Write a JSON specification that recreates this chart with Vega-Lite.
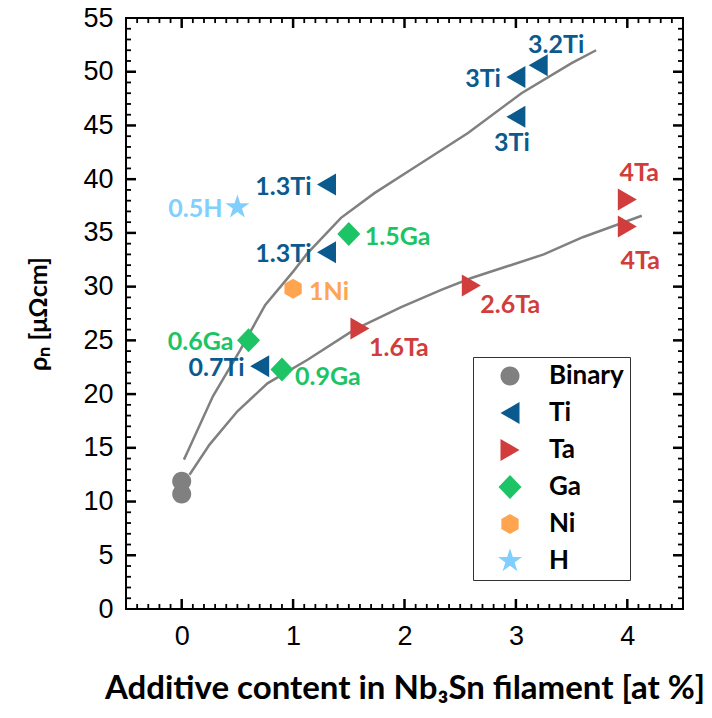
{
  "$schema": "https://vega.github.io/schema/vega-lite/v6.json",
  "width": 557,
  "height": 591,
  "autosize": {"type": "none"},
  "padding": {"left": 126, "top": 18, "right": 29, "bottom": 109},
  "background": "white",
  "config": {
    "view": {"stroke": "black", "strokeWidth": 2},
    "axis": {"domain": false, "ticks": false, "grid": false, "labelColor": "black", "titleColor": "black"}
  },
  "datasets": {
    "points": [
      {"x": 0, "rho": 11.9, "type": "Binary", "label": ""},
      {"x": 0, "rho": 10.7, "type": "Binary", "label": ""},
      {"x": 0.7, "rho": 22.6, "type": "Ti", "label": "0.7Ti"},
      {"x": 1.3, "rho": 33.2, "type": "Ti", "label": "1.3Ti"},
      {"x": 1.3, "rho": 39.5, "type": "Ti", "label": "1.3Ti"},
      {"x": 3, "rho": 45.8, "type": "Ti", "label": "3Ti"},
      {"x": 3, "rho": 49.5, "type": "Ti", "label": "3Ti"},
      {"x": 3.2, "rho": 50.6, "type": "Ti", "label": "3.2Ti"},
      {"x": 1.6, "rho": 26.1, "type": "Ta", "label": "1.6Ta"},
      {"x": 2.6, "rho": 30.1, "type": "Ta", "label": "2.6Ta"},
      {"x": 4, "rho": 38.1, "type": "Ta", "label": "4Ta"},
      {"x": 4, "rho": 35.6, "type": "Ta", "label": "4Ta"},
      {"x": 0.6, "rho": 25.0, "type": "Ga", "label": "0.6Ga"},
      {"x": 0.9, "rho": 22.3, "type": "Ga", "label": "0.9Ga"},
      {"x": 1.5, "rho": 34.9, "type": "Ga", "label": "1.5Ga"},
      {"x": 1, "rho": 29.8, "type": "Ni", "label": "1Ni"},
      {"x": 0.5, "rho": 37.4, "type": "H", "label": "0.5H"}
    ],
    "curves": [
      {"curve": "upper", "x": 0.02, "rho": 13.9},
      {"curve": "upper", "x": 0.06, "rho": 14.8},
      {"curve": "upper", "x": 0.28, "rho": 19.8},
      {"curve": "upper", "x": 0.525, "rho": 24.1},
      {"curve": "upper", "x": 0.75, "rho": 28.3},
      {"curve": "upper", "x": 1.0, "rho": 31.4},
      {"curve": "upper", "x": 1.12, "rho": 33.0},
      {"curve": "upper", "x": 1.43, "rho": 36.4},
      {"curve": "upper", "x": 1.73, "rho": 38.7},
      {"curve": "upper", "x": 2.06, "rho": 40.9},
      {"curve": "upper", "x": 2.57, "rho": 44.3},
      {"curve": "upper", "x": 3.05, "rho": 48.0},
      {"curve": "upper", "x": 3.5, "rho": 50.8},
      {"curve": "upper", "x": 3.72, "rho": 52.0},
      {"curve": "lower", "x": 0.07, "rho": 12.5},
      {"curve": "lower", "x": 0.25, "rho": 15.3},
      {"curve": "lower", "x": 0.5, "rho": 18.4},
      {"curve": "lower", "x": 0.77, "rho": 21.0},
      {"curve": "lower", "x": 1.13, "rho": 23.2},
      {"curve": "lower", "x": 1.55, "rho": 26.0},
      {"curve": "lower", "x": 1.97, "rho": 28.1},
      {"curve": "lower", "x": 2.33, "rho": 29.7},
      {"curve": "lower", "x": 2.6, "rho": 30.8},
      {"curve": "lower", "x": 3.25, "rho": 33.0},
      {"curve": "lower", "x": 3.6, "rho": 34.6},
      {"curve": "lower", "x": 4.13, "rho": 36.6}
    ],
    "xticks": [
      {"value": -0.4, "kind": "minor"}, {"value": -0.3, "kind": "minor"}, {"value": -0.2, "kind": "minor"}, {"value": -0.1, "kind": "minor"},
      {"value": 0, "kind": "major"},
      {"value": 0.1, "kind": "minor"}, {"value": 0.2, "kind": "minor"}, {"value": 0.3, "kind": "minor"}, {"value": 0.4, "kind": "minor"}, {"value": 0.5, "kind": "minor"},
      {"value": 0.6, "kind": "minor"}, {"value": 0.7, "kind": "minor"}, {"value": 0.8, "kind": "minor"}, {"value": 0.9, "kind": "minor"},
      {"value": 1, "kind": "major"},
      {"value": 1.1, "kind": "minor"}, {"value": 1.2, "kind": "minor"}, {"value": 1.3, "kind": "minor"}, {"value": 1.4, "kind": "minor"}, {"value": 1.5, "kind": "minor"},
      {"value": 1.6, "kind": "minor"}, {"value": 1.7, "kind": "minor"}, {"value": 1.8, "kind": "minor"}, {"value": 1.9, "kind": "minor"},
      {"value": 2, "kind": "major"},
      {"value": 2.1, "kind": "minor"}, {"value": 2.2, "kind": "minor"}, {"value": 2.3, "kind": "minor"}, {"value": 2.4, "kind": "minor"}, {"value": 2.5, "kind": "minor"},
      {"value": 2.6, "kind": "minor"}, {"value": 2.7, "kind": "minor"}, {"value": 2.8, "kind": "minor"}, {"value": 2.9, "kind": "minor"},
      {"value": 3, "kind": "major"},
      {"value": 3.1, "kind": "minor"}, {"value": 3.2, "kind": "minor"}, {"value": 3.3, "kind": "minor"}, {"value": 3.4, "kind": "minor"}, {"value": 3.5, "kind": "minor"},
      {"value": 3.6, "kind": "minor"}, {"value": 3.7, "kind": "minor"}, {"value": 3.8, "kind": "minor"}, {"value": 3.9, "kind": "minor"},
      {"value": 4, "kind": "major"},
      {"value": 4.1, "kind": "minor"}, {"value": 4.2, "kind": "minor"}, {"value": 4.3, "kind": "minor"}, {"value": 4.4, "kind": "minor"}
    ],
    "yticks": [
      {"value": 1, "kind": "minor"}, {"value": 2, "kind": "minor"}, {"value": 3, "kind": "minor"}, {"value": 4, "kind": "minor"}, {"value": 5, "kind": "major"},
      {"value": 6, "kind": "minor"}, {"value": 7, "kind": "minor"}, {"value": 8, "kind": "minor"}, {"value": 9, "kind": "minor"}, {"value": 10, "kind": "major"},
      {"value": 11, "kind": "minor"}, {"value": 12, "kind": "minor"}, {"value": 13, "kind": "minor"}, {"value": 14, "kind": "minor"}, {"value": 15, "kind": "major"},
      {"value": 16, "kind": "minor"}, {"value": 17, "kind": "minor"}, {"value": 18, "kind": "minor"}, {"value": 19, "kind": "minor"}, {"value": 20, "kind": "major"},
      {"value": 21, "kind": "minor"}, {"value": 22, "kind": "minor"}, {"value": 23, "kind": "minor"}, {"value": 24, "kind": "minor"}, {"value": 25, "kind": "major"},
      {"value": 26, "kind": "minor"}, {"value": 27, "kind": "minor"}, {"value": 28, "kind": "minor"}, {"value": 29, "kind": "minor"}, {"value": 30, "kind": "major"},
      {"value": 31, "kind": "minor"}, {"value": 32, "kind": "minor"}, {"value": 33, "kind": "minor"}, {"value": 34, "kind": "minor"}, {"value": 35, "kind": "major"},
      {"value": 36, "kind": "minor"}, {"value": 37, "kind": "minor"}, {"value": 38, "kind": "minor"}, {"value": 39, "kind": "minor"}, {"value": 40, "kind": "major"},
      {"value": 41, "kind": "minor"}, {"value": 42, "kind": "minor"}, {"value": 43, "kind": "minor"}, {"value": 44, "kind": "minor"}, {"value": 45, "kind": "major"},
      {"value": 46, "kind": "minor"}, {"value": 47, "kind": "minor"}, {"value": 48, "kind": "minor"}, {"value": 49, "kind": "minor"}, {"value": 50, "kind": "major"},
      {"value": 51, "kind": "minor"}, {"value": 52, "kind": "minor"}, {"value": 53, "kind": "minor"}, {"value": 54, "kind": "minor"}
    ]
  },
  "resolve": {"axis": {"x": "independent", "y": "independent"}},
  "layer": [
    {
      "data": {"name": "curves"},
      "mark": {"type": "line", "color": "#808080", "strokeWidth": 2.5},
      "encoding": {
        "x": {
          "field": "x", "type": "quantitative",
          "scale": {"domain": [-0.5, 4.5], "nice": false, "zero": false},
          "axis": {
            "orient": "bottom", "values": [0, 1, 2, 3, 4],
            "labelFont": "Liberation Sans", "labelFontSize": 27, "labelPadding": 14,
            "labelFlush": false, "labelOverlap": false,
            "title": "Additive content in Nb₃Sn filament [at %]",
            "titleFont": "Lato", "titleFontWeight": "bold", "titleFontSize": 33, "titlePadding": 23
          }
        },
        "y": {
          "field": "rho", "type": "quantitative",
          "scale": {"domain": [0, 55], "nice": false, "zero": false},
          "axis": {
            "orient": "left", "values": [0, 5, 10, 15, 20, 25, 30, 35, 40, 45, 50, 55],
            "labelFont": "Liberation Sans", "labelFontSize": 27, "labelPadding": 13,
            "labelFlush": false, "labelOverlap": false,
            "title": "ρₙ [μΩcm]",
            "titleFont": "Lato", "titleFontWeight": "bold", "titleFontSize": 25, "titlePadding": 31
          }
        },
        "detail": {"field": "curve", "type": "nominal"}
      }
    },
    {
      "data": {"name": "xticks"},
      "transform": [{"filter": "datum.kind == 'major'"}],
      "mark": {"type": "rule", "color": "black", "strokeWidth": 2.5},
      "encoding": {
        "x": {"field": "value", "type": "quantitative", "axis": null},
        "y": {"datum": 0, "type": "quantitative", "axis": null},
        "y2": {"datum": 0.93}
      }
    },
    {
      "data": {"name": "xticks"},
      "transform": [{"filter": "datum.kind == 'minor'"}],
      "mark": {"type": "rule", "color": "black", "strokeWidth": 1.8},
      "encoding": {
        "x": {"field": "value", "type": "quantitative", "axis": null},
        "y": {"datum": 0, "type": "quantitative", "axis": null},
        "y2": {"datum": 0.47}
      }
    },
    {
      "data": {"name": "xticks"},
      "transform": [{"filter": "datum.kind == 'major'"}],
      "mark": {"type": "rule", "color": "black", "strokeWidth": 2.5},
      "encoding": {
        "x": {"field": "value", "type": "quantitative", "axis": null},
        "y": {"datum": 55, "type": "quantitative", "axis": null},
        "y2": {"datum": 54.07}
      }
    },
    {
      "data": {"name": "xticks"},
      "transform": [{"filter": "datum.kind == 'minor'"}],
      "mark": {"type": "rule", "color": "black", "strokeWidth": 1.8},
      "encoding": {
        "x": {"field": "value", "type": "quantitative", "axis": null},
        "y": {"datum": 55, "type": "quantitative", "axis": null},
        "y2": {"datum": 54.53}
      }
    },
    {
      "data": {"name": "yticks"},
      "transform": [{"filter": "datum.kind == 'major'"}],
      "mark": {"type": "rule", "color": "black", "strokeWidth": 2.5},
      "encoding": {
        "y": {"field": "value", "type": "quantitative", "axis": null},
        "x": {"datum": -0.5, "type": "quantitative", "axis": null},
        "x2": {"datum": -0.41}
      }
    },
    {
      "data": {"name": "yticks"},
      "transform": [{"filter": "datum.kind == 'minor'"}],
      "mark": {"type": "rule", "color": "black", "strokeWidth": 1.8},
      "encoding": {
        "y": {"field": "value", "type": "quantitative", "axis": null},
        "x": {"datum": -0.5, "type": "quantitative", "axis": null},
        "x2": {"datum": -0.455}
      }
    },
    {
      "data": {"name": "yticks"},
      "transform": [{"filter": "datum.kind == 'major'"}],
      "mark": {"type": "rule", "color": "black", "strokeWidth": 2.5},
      "encoding": {
        "y": {"field": "value", "type": "quantitative", "axis": null},
        "x": {"datum": 4.5, "type": "quantitative", "axis": null},
        "x2": {"datum": 4.41}
      }
    },
    {
      "data": {"name": "yticks"},
      "transform": [{"filter": "datum.kind == 'minor'"}],
      "mark": {"type": "rule", "color": "black", "strokeWidth": 1.8},
      "encoding": {
        "y": {"field": "value", "type": "quantitative", "axis": null},
        "x": {"datum": 4.5, "type": "quantitative", "axis": null},
        "x2": {"datum": 4.455}
      }
    },
    {
      "data": {"name": "points"},
      "mark": {"type": "point", "filled": true, "opacity": 1, "size": 400, "strokeWidth": 0},
      "encoding": {
        "x": {"field": "x", "type": "quantitative", "axis": null},
        "y": {"field": "rho", "type": "quantitative", "axis": null},
        "shape": {
          "field": "type", "type": "nominal",
          "scale": {
            "domain": ["Binary", "Ti", "Ta", "Ga", "Ni", "H"],
            "range": [
              "M-0.95,0A0.95,0.95,0,1,0,0.95,0A0.95,0.95,0,1,0,-0.95,0Z",
              "M-0.95,0L0.95,-1.1L0.95,1.1Z",
              "M0.95,0L-0.95,-1.1L-0.95,1.1Z",
              "M0,-1.2L1.15,0L0,1.2L-1.15,0Z",
              "M0,-1L0.866,-0.5L0.866,0.5L0,1L-0.866,0.5L-0.866,-0.5Z",
              "M0,-1.27L0.285,-0.392L1.208,-0.392L0.461,0.15L0.747,1.027L0,0.485L-0.747,1.027L-0.461,0.15L-1.208,-0.392L-0.285,-0.392Z"
            ]
          },
          "legend": {
            "title": null, "orient": "none", "legendX": 347, "legendY": 339,
            "symbolSize": 400, "symbolOffset": 18, "labelOffset": 26, "symbolStrokeWidth": 0,
            "labelFont": "Lato", "labelFontWeight": "bold", "labelFontSize": 26, "labelColor": "black",
            "padding": 6, "rowPadding": 11, "strokeColor": "#333333", "fillColor": "white"
          }
        },
        "color": {
          "field": "type", "type": "nominal",
          "scale": {
            "domain": ["Binary", "Ti", "Ta", "Ga", "Ni", "H"],
            "range": ["#808080", "#0B5A8E", "#D13D3D", "#1CC466", "#FFA54F", "#80CFFF"]
          },
          "legend": {
            "title": null, "orient": "none", "legendX": 347, "legendY": 339,
            "symbolSize": 400, "symbolOffset": 18, "labelOffset": 26, "symbolStrokeWidth": 0,
            "labelFont": "Lato", "labelFontWeight": "bold", "labelFontSize": 26, "labelColor": "black",
            "padding": 6, "rowPadding": 11, "strokeColor": "#333333", "fillColor": "white"
          }
        }
      }
    },
    {
      "data": {"name": "points"},
      "transform": [{"filter": "(datum.label == '3Ti' && datum.rho > 48) || datum.label == '1.3Ti' || datum.label == '0.7Ti' || datum.label == '0.5H' || datum.label == '0.6Ga'"}],
      "mark": {"type": "text", "align": "right", "baseline": "middle", "dx": -15, "dy": 2, "font": "Lato", "fontWeight": "bold", "fontSize": 25},
      "encoding": {
        "x": {"field": "x", "type": "quantitative", "axis": null},
        "y": {"field": "rho", "type": "quantitative", "axis": null},
        "text": {"field": "label"},
        "color": {"field": "type", "type": "nominal", "legend": null}
      }
    },
    {
      "data": {"name": "points"},
      "transform": [{"filter": "datum.label == '1.5Ga' || datum.label == '1Ni'"}],
      "mark": {"type": "text", "align": "left", "baseline": "middle", "dx": 16, "dy": 3, "font": "Lato", "fontWeight": "bold", "fontSize": 25},
      "encoding": {
        "x": {"field": "x", "type": "quantitative", "axis": null},
        "y": {"field": "rho", "type": "quantitative", "axis": null},
        "text": {"field": "label"},
        "color": {"field": "type", "type": "nominal", "legend": null}
      }
    },
    {
      "data": {"name": "points"},
      "transform": [{"filter": "datum.label == '0.9Ga'"}],
      "mark": {"type": "text", "align": "left", "baseline": "middle", "dx": 13, "dy": 8, "font": "Lato", "fontWeight": "bold", "fontSize": 25},
      "encoding": {
        "x": {"field": "x", "type": "quantitative", "axis": null},
        "y": {"field": "rho", "type": "quantitative", "axis": null},
        "text": {"field": "label"},
        "color": {"field": "type", "type": "nominal", "legend": null}
      }
    },
    {
      "data": {"name": "points"},
      "transform": [{"filter": "datum.label == '1.6Ta' || datum.label == '2.6Ta'"}],
      "mark": {"type": "text", "align": "left", "baseline": "middle", "dx": 9, "dy": 19, "font": "Lato", "fontWeight": "bold", "fontSize": 25},
      "encoding": {
        "x": {"field": "x", "type": "quantitative", "axis": null},
        "y": {"field": "rho", "type": "quantitative", "axis": null},
        "text": {"field": "label"},
        "color": {"field": "type", "type": "nominal", "legend": null}
      }
    },
    {
      "data": {"name": "points"},
      "transform": [{"filter": "datum.label == '3.2Ti'"}],
      "mark": {"type": "text", "align": "center", "baseline": "middle", "dx": 18, "dy": -20, "font": "Lato", "fontWeight": "bold", "fontSize": 25},
      "encoding": {
        "x": {"field": "x", "type": "quantitative", "axis": null},
        "y": {"field": "rho", "type": "quantitative", "axis": null},
        "text": {"field": "label"},
        "color": {"field": "type", "type": "nominal", "legend": null}
      }
    },
    {
      "data": {"name": "points"},
      "transform": [{"filter": "datum.label == '4Ta' && datum.rho > 37"}],
      "mark": {"type": "text", "align": "center", "baseline": "middle", "dx": 12, "dy": -27, "font": "Lato", "fontWeight": "bold", "fontSize": 25},
      "encoding": {
        "x": {"field": "x", "type": "quantitative", "axis": null},
        "y": {"field": "rho", "type": "quantitative", "axis": null},
        "text": {"field": "label"},
        "color": {"field": "type", "type": "nominal", "legend": null}
      }
    },
    {
      "data": {"name": "points"},
      "transform": [{"filter": "datum.label == '3Ti' && datum.rho < 48"}],
      "mark": {"type": "text", "align": "center", "baseline": "middle", "dx": -4, "dy": 26, "font": "Lato", "fontWeight": "bold", "fontSize": 25},
      "encoding": {
        "x": {"field": "x", "type": "quantitative", "axis": null},
        "y": {"field": "rho", "type": "quantitative", "axis": null},
        "text": {"field": "label"},
        "color": {"field": "type", "type": "nominal", "legend": null}
      }
    },
    {
      "data": {"name": "points"},
      "transform": [{"filter": "datum.label == '4Ta' && datum.rho < 37"}],
      "mark": {"type": "text", "align": "center", "baseline": "middle", "dx": 13, "dy": 35, "font": "Lato", "fontWeight": "bold", "fontSize": 25},
      "encoding": {
        "x": {"field": "x", "type": "quantitative", "axis": null},
        "y": {"field": "rho", "type": "quantitative", "axis": null},
        "text": {"field": "label"},
        "color": {"field": "type", "type": "nominal", "legend": null}
      }
    }
  ]
}
